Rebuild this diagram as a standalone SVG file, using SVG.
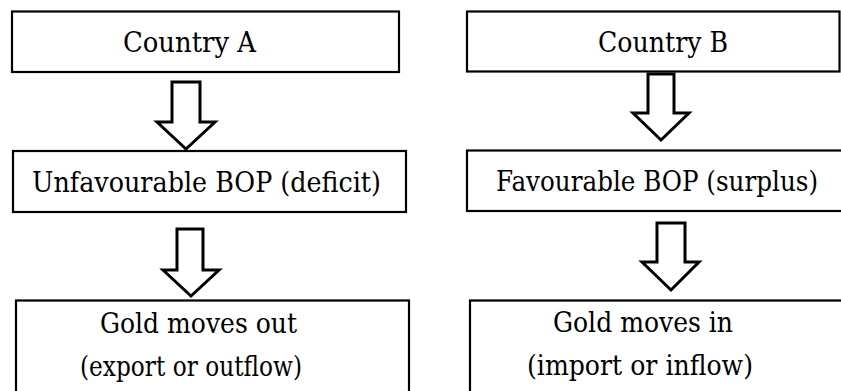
<svg xmlns="http://www.w3.org/2000/svg" width="841" height="391" viewBox="0 0 841 391">
  <style>
    .box { fill: #ffffff; stroke: #000000; stroke-width: 2.2; }
    .lbl { font-family: "DejaVu Serif", serif; font-size: 28.5px; fill: #000000; text-anchor: middle; }
    .arrow { fill: #ffffff; stroke: #000000; stroke-width: 3; stroke-linejoin: miter; }
  </style>
  <rect width="841" height="391" fill="#ffffff"/>

  <!-- Left column: country A -->
  <g id="country-a">
    <rect class="box" x="12" y="11.5" width="387" height="60.5"/>
    <text class="lbl" x="189.5" y="52" textLength="133" lengthAdjust="spacingAndGlyphs">Country A</text>
  </g>
  <g id="bop-deficit">
    <rect class="box" x="13" y="151" width="393" height="61"/>
    <text class="lbl" x="206.5" y="192" textLength="349" lengthAdjust="spacingAndGlyphs">Unfavourable BOP (deficit)</text>
  </g>
  <g id="gold-out">
    <rect class="box" x="16" y="300.5" width="393" height="110"/>
    <text class="lbl" x="198.5" y="333" textLength="197" lengthAdjust="spacingAndGlyphs">Gold moves out</text>
    <text class="lbl" x="191" y="376" textLength="222" lengthAdjust="spacingAndGlyphs">(export or outflow)</text>
  </g>

  <!-- Right column: country B -->
  <g id="country-b">
    <rect class="box" x="467" y="11.5" width="372.5" height="60"/>
    <text class="lbl" x="663" y="52" textLength="130" lengthAdjust="spacingAndGlyphs">Country B</text>
  </g>
  <g id="bop-surplus">
    <rect class="box" x="467" y="150.5" width="390" height="60.5"/>
    <text class="lbl" x="657" y="191" textLength="322" lengthAdjust="spacingAndGlyphs">Favourable BOP (surplus)</text>
  </g>
  <g id="gold-in">
    <rect class="box" x="470" y="300.5" width="390" height="110"/>
    <text class="lbl" x="643" y="332" textLength="180" lengthAdjust="spacingAndGlyphs">Gold moves in</text>
    <text class="lbl" x="640" y="375" textLength="226" lengthAdjust="spacingAndGlyphs">(import or inflow)</text>
  </g>

  <!-- Block arrows between the boxes -->
  <g id="connectors">
    <polygon class="arrow" points="172,82 200,82 200,122 215,122 186,149 157,122 172,122"/>
    <polygon class="arrow" points="177,229 203,229 203,270 219,270 191,296 163,270 177,270"/>
    <polygon class="arrow" points="648,74 674,74 674,113 689,113 661,140 633,113 648,113"/>
    <polygon class="arrow" points="657,223 685,223 685,262 699,262 671,290 642,262 657,262"/>
  </g>
</svg>
